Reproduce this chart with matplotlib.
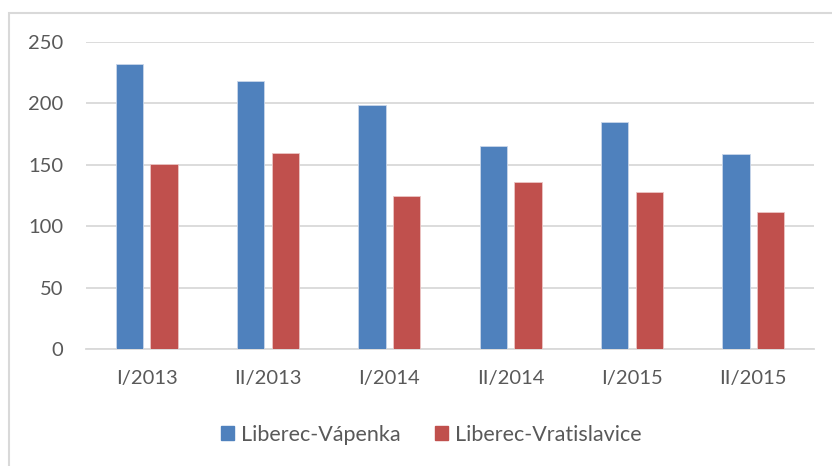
import matplotlib
matplotlib.use("Agg")
import numpy as np
from matplotlib import pyplot as plt
from matplotlib.patches import Rectangle, Patch

# semesters and values for the two stations
periods = ["I/2013", "II/2013", "I/2014", "II/2014", "I/2015", "II/2015"]
vapenka = [232, 218, 199, 165, 185, 159]
vratislavice = [151, 160, 125, 136, 128, 112]
series_names = ["Liberec-Vápenka", "Liberec-Vratislavice"]

blue = "#4F81BD"
red = "#C0504D"
grid_col = "#D9D9D9"
text_col = "#595959"

plt.rcParams['font.family'] = ['Lato', 'DejaVu Sans']

fig = plt.figure(figsize=(8.32, 4.66), dpi=100)
ax = fig.add_axes([86/832, 1-349.3/466, 728/832, 307.3/466])

x = np.arange(len(periods))
w = 0.225
off = 0.143
ax.bar(x - off, vapenka, w, color=blue, edgecolor="#C9D6EA", linewidth=0.6, zorder=3)
ax.bar(x + off, vratislavice, w, color=red, edgecolor="#EBC6C5", linewidth=0.6, zorder=3)

ax.set_xlim(-0.5, len(periods) - 0.5)
ax.set_ylim(0, 250)
ax.set_yticks([0, 50, 100, 150, 200, 250])
ax.set_xticks(x)
ax.set_xticklabels(periods)
ax.yaxis.grid(True, color=grid_col, linewidth=1.3, zorder=0)
ax.set_axisbelow(True)
for s in ["top", "right", "left"]:
    ax.spines[s].set_visible(False)
ax.spines["bottom"].set_color(grid_col)
ax.spines["bottom"].set_linewidth(1.3)
ax.tick_params(axis="both", length=0, labelsize=14.5, colors=text_col)
ax.tick_params(axis="y", pad=16.5)
ax.tick_params(axis="x", pad=15)

# outer chart border
fig.patches.append(Rectangle((9/832, -0.05), 1.1, 1 - 13/466 + 0.05,
                             transform=fig.transFigure, fill=False,
                             edgecolor=grid_col, linewidth=1.5))

handles = [Patch(color=blue), Patch(color=red)]
fig.legend(handles, series_names, loc="center", bbox_to_anchor=(431/832, 1-435/466),
           ncol=2, frameon=False, fontsize=15.5, labelcolor=text_col,
           handlelength=0.62, handleheight=0.62, handletextpad=0.3, columnspacing=1.6)

fig.savefig("out.png", dpi=100)
